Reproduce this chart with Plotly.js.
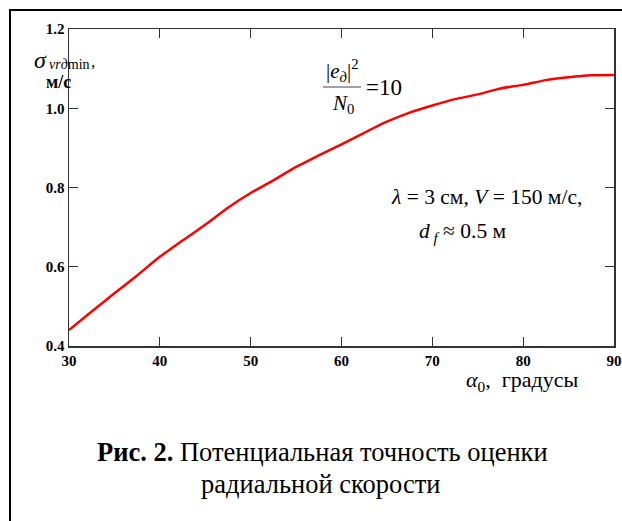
<!DOCTYPE html>
<html><head><meta charset="utf-8">
<script src="https://cdn.plot.ly/plotly-3.0.1.min.js"></script>
<style>html,body{margin:0;padding:0;background:#fff;}#chart{width:622px;height:521px;}</style>
</head><body><div id="chart"></div>
<script>
// Data
const alpha0 = [30, 32.5, 35, 37.5, 40, 42.5, 45, 47.5, 50, 52.5, 55, 57.5, 60, 62.5, 65, 67.5, 70, 72.5, 75, 77.5, 80, 82.5, 85, 87.5, 90];
const sigmaVr = [0.44, 0.487, 0.533, 0.578, 0.625, 0.666, 0.706, 0.749, 0.786, 0.818, 0.852, 0.881, 0.909, 0.938, 0.966, 0.989, 1.007, 1.023, 1.035, 1.05, 1.059, 1.071, 1.078, 1.083, 1.084];
const xTicks = [30, 40, 50, 60, 70, 80, 90];
const yTicks = [0.4, 0.6, 0.8, 1.0, 1.2];
const yTickText = ['0.4', '0.6', '0.8', '1.0', '1.2'];

const W = 622, H = 521;
const M = {l: 69, r: 8, t: 29, b: 175};
const PW = W - M.l - M.r, PH = H - M.t - M.b;
const px = x => (x - M.l) / PW;
const py = y => (H - M.b - y) / PH;
const serif = 'Liberation Serif';

function ann(text, x, y, size, xa, ya, extra) {
  return Object.assign({text: text, x: px(x), y: py(y), xref: 'paper', yref: 'paper',
    showarrow: false, xanchor: xa || 'center', yanchor: ya || 'middle',
    font: {family: serif, size: size, color: '#000'}}, extra || {});
}

const annotations = [
  ann('<i>σ</i>', 32, 60, 24, 'left'),
  ann('<i>vrд</i>min', 47, 65, 14, 'left'),
  ann(',', 89, 61, 17, 'left'),
  ann('<b>м/с</b>', 44, 82, 18, 'left'),
  ann('|<i>e</i><sub><i>д</i></sub>|<sup>2</sup>', 342, 71, 21),
  ann('<i>N</i><sub>0</sub>', 343, 104, 21),
  ann('=10', 364, 87, 23, 'left'),
  ann('<i>λ</i> = 3 см, <i>V</i> = 150 м/с,', 389, 197, 21.5, 'left'),
  ann('<i>d</i><sub> <i>f</i></sub> ≈ 0.5 м', 417, 232, 21.5, 'left'),
  ann('<i>α</i><sub>0</sub>,  градусы', 464, 381, 22, 'left'),
  ann('<b>Рис. 2.</b> Потенциальная точность оценки', 322, 452, 26.5),
  ann('радиальной скорости', 320, 484, 26.5)
];

const shapes = [
  {type: 'line', xref: 'paper', yref: 'paper', x0: px(323), x1: px(361), y0: py(87), y1: py(87), line: {color: '#444', width: 1.2}},
  {type: 'line', xref: 'paper', yref: 'paper', x0: px(10), x1: px(10), y0: py(530), y1: py(10), line: {color: '#000', width: 2}},
  {type: 'line', xref: 'paper', yref: 'paper', x0: px(9), x1: px(630), y0: py(10), y1: py(10), line: {color: '#000', width: 2}}
];

const trace = {x: alpha0, y: sigmaVr, type: 'scatter', mode: 'lines',
  line: {color: '#ff0000', width: 2.5, shape: 'spline', smoothing: 0.6}, hoverinfo: 'skip'};

const axisCommon = {showgrid: false, zeroline: false, showline: true, linecolor: '#333', linewidth: 1.5,
  mirror: 'ticks', ticks: 'inside', ticklen: 9, tickcolor: '#333', tickwidth: 1,
  tickfont: {family: serif, size: 15, color: '#000', weight: 'bold'}};

const layout = {
  width: W, height: H, margin: M, showlegend: false,
  paper_bgcolor: '#fff', plot_bgcolor: '#fff',
  xaxis: Object.assign({}, axisCommon, {range: [30, 90], tickvals: xTicks, ticktext: xTicks.map(String)}),
  yaxis: Object.assign({}, axisCommon, {range: [0.4, 1.2], tickvals: yTicks, ticktext: yTickText}),
  annotations: annotations, shapes: shapes
};

Plotly.newPlot('chart', [trace], layout, {staticPlot: true, displayModeBar: false});
</script></body></html>
